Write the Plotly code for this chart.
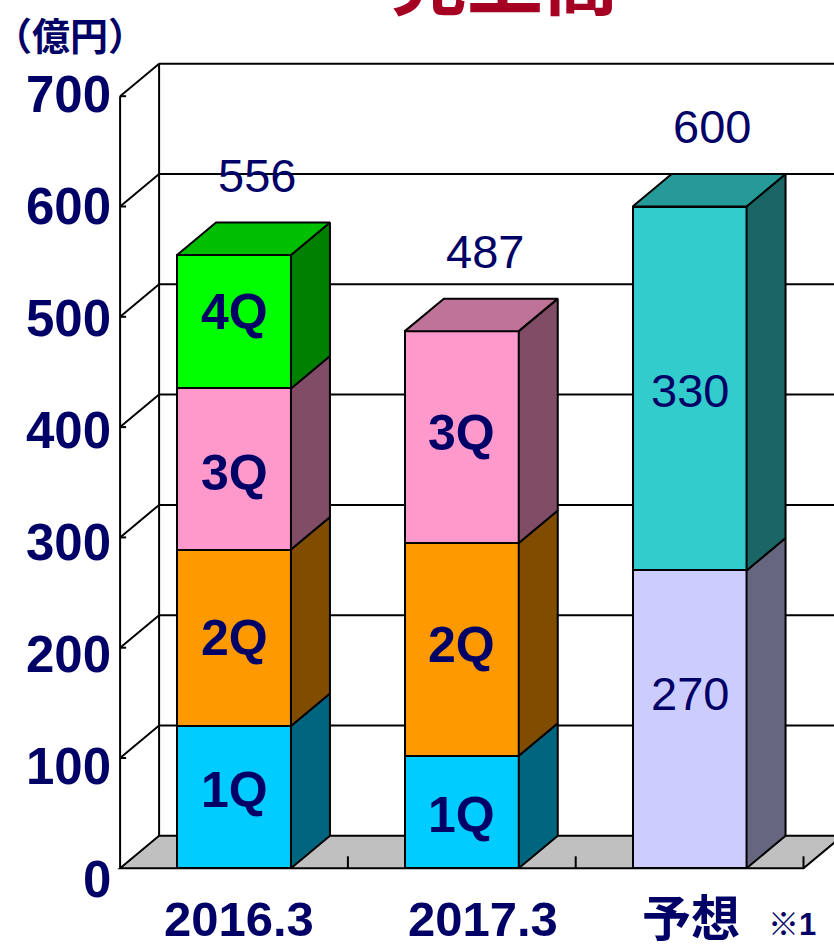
import plotly.graph_objects as go

# ---------------- data ----------------
categories = ["2016.3", "2017.3", "予想"]
note_text = "※1"
q1 = [129, 102, None]
q2 = [160, 193, None]
q3 = [146, 192, None]
q4 = [121, None, None]
fc_lower = [None, None, 270]
fc_upper = [None, None, 330]
y_ticks = [0, 100, 200, 300, 400, 500, 600, 700]
unit_text = "（億円）"
title_text = "売上高"

# series: (values, segment label ("value" -> show number), front colour, bold?)
series = [
    (q1, "1Q", "#00CCFF", True),
    (q2, "2Q", "#FF9900", True),
    (q3, "3Q", "#FF99CC", True),
    (q4, "4Q", "#00FF00", True),
    (fc_lower, "value", "#CCCCFF", False),
    (fc_upper, "value", "#33CCCC", False),
]

# ---------------- geometry / style ----------------
W, H = 834, 948
PX0, KX = 234.0, 227.8      # pixel of x=0, pixels per category
PY0, KY = 868.3, 1.103      # pixel of value 0, pixels per value unit
DX = 39.0 / KX              # depth offset (x)
DY = 32.5 / KY              # depth offset (value)
BW = 0.5                    # bar width
NAVY = "#000066"
LAT = "Liberation Sans, Arial, Noto Sans CJK JP, sans-serif"
CJK = "Noto Sans CJK JP, Liberation Sans, sans-serif"
x_lo = -0.5
x_hi = len(categories) - 0.5
ymax = y_ticks[-1]
# small pixel nudges of the in-bar labels, keyed (category, series index)
seg_nudge = {(0, 0): 7, (0, 2): -4, (0, 3): 10, (1, 0): -3, (1, 1): 4, (1, 2): 4,
             (2, 4): 26, (2, 5): -2}


def shade(hexcol, f):
    h = hexcol.lstrip("#")
    r, g, b = (int(h[i:i + 2], 16) for i in (0, 2, 4))
    return "#%02X%02X%02X" % (round(r * f), round(g * f), round(b * f))


fig = go.Figure()
shapes = []
line = dict(color="black", width=2)

# back wall gridlines
for v in y_ticks[1:]:
    shapes.append(dict(type="line", layer="below", x0=x_lo + DX, x1=x_hi + DX,
                       y0=v + DY, y1=v + DY, line=line))
# back wall left edge
shapes.append(dict(type="line", layer="below", x0=x_lo + DX, x1=x_lo + DX,
                   y0=DY, y1=ymax + DY, line=line))
# side wall diagonals
for v in y_ticks[1:]:
    shapes.append(dict(type="line", layer="below", x0=x_lo, x1=x_lo + DX,
                       y0=v, y1=v + DY, line=line))
# front axis line and ticks
shapes.append(dict(type="line", layer="below", x0=x_lo, x1=x_lo, y0=0, y1=ymax, line=line))
for v in y_ticks[1:]:
    shapes.append(dict(type="line", layer="below", x0=x_lo, x1=x_lo + 6 / KX,
                       y0=v, y1=v, line=line))
# floor
floor_path = "M %f,%f L %f,%f L %f,%f L %f,%f Z" % (
    x_lo, 0, x_hi, 0, x_hi + DX, DY, x_lo + DX, DY)
shapes.append(dict(type="path", layer="below", path=floor_path,
                   fillcolor="#C0C0C0", line=line))
# floor ticks at category boundaries
for k in range(1, len(categories) + 1):
    xb = x_lo + k
    shapes.append(dict(type="line", layer="below", x0=xb, x1=xb, y0=0, y1=12 / KY, line=line))

# front faces: stacked bars
for vals, lab, col, bold in series:
    fig.add_trace(go.Bar(
        x=list(range(len(categories))), y=vals, width=BW,
        marker=dict(color=col, line=dict(color="black", width=2)),
        hoverinfo="skip", showlegend=False,
    ))

# side and top faces, segment labels
annotations = []
for i in range(len(categories)):
    base = 0
    top_col = None
    for s, (vals, lab, col, bold) in enumerate(series):
        v = vals[i]
        if v is None:
            continue
        t = base + v
        xr = i + BW / 2
        fig.add_trace(go.Scatter(
            x=[xr, xr + DX, xr + DX, xr, xr],
            y=[base, base + DY, t + DY, t, base],
            mode="lines", fill="toself", fillcolor=shade(col, 0.5),
            line=dict(color="black", width=2),
            hoverinfo="skip", showlegend=False))
        txt = str(v) if lab == "value" else lab
        annotations.append(dict(
            x=i, y=(base + t) / 2, yshift=seg_nudge.get((i, s), 0), text=txt,
            showarrow=False, xanchor="center", yanchor="middle",
            font=dict(family=LAT, size=50 if bold else 47, color=NAVY,
                      weight="bold" if bold else "normal")))
        base = t
        top_col = col
    xl = i - BW / 2
    xr = i + BW / 2
    fig.add_trace(go.Scatter(
        x=[xl, xl + DX, xr + DX, xr, xl],
        y=[base, base + DY, base + DY, base, base],
        mode="lines", fill="toself", fillcolor=shade(top_col, 0.75),
        line=dict(color="black", width=2),
        hoverinfo="skip", showlegend=False))
    # total label
    annotations.append(dict(x=i + 0.1, y=base, yshift=80, text=str(base),
                            showarrow=False, xanchor="center", yanchor="middle",
                            font=dict(family=LAT, size=47, color=NAVY)))

# y tick labels
for v in y_ticks:
    annotations.append(dict(x=x_lo, y=v, xshift=-7, yshift=-(10.7 - 0.018 * v),
                            text=str(v), showarrow=False, xanchor="right",
                            yanchor="middle",
                            font=dict(family=LAT, size=51, color=NAVY, weight="bold")))

# category labels
cat_shift = [5, 21, 1]
for i, c in enumerate(categories):
    annotations.append(dict(x=i, y=0, xshift=cat_shift[i], yshift=-51, text=c,
                            showarrow=False, xanchor="center", yanchor="middle",
                            font=dict(family=LAT, size=49, color=NAVY, weight="bold")))
annotations.append(dict(x=len(categories) - 1, y=0, xshift=102, yshift=-56, text=note_text,
                        showarrow=False, xanchor="center", yanchor="middle",
                        font=dict(family=LAT, size=31, color=NAVY, weight="bold")))

# unit and title
annotations.append(dict(xref="paper", yref="paper", x=70 / W, y=1, yshift=-4, text=unit_text,
                        showarrow=False, xanchor="center", yanchor="top",
                        font=dict(family=CJK, size=38, color=NAVY, weight="bold")))
annotations.append(dict(xref="paper", yref="paper", x=505 / W, y=1 + 24 / H, text=title_text,
                        showarrow=False, xanchor="center", yanchor="middle",
                        font=dict(family=CJK, size=76, color="#A50021", weight="bold")))

fig.update_layout(
    width=W, height=H,
    margin=dict(l=0, r=0, t=0, b=0),
    paper_bgcolor="white", plot_bgcolor="white",
    barmode="stack",
    xaxis=dict(range=[-PX0 / KX, (W - PX0) / KX], visible=False, fixedrange=True),
    yaxis=dict(range=[(PY0 - H) / KY, PY0 / KY], visible=False, fixedrange=True),
    shapes=shapes,
    annotations=annotations,
    showlegend=False,
)

fig.write_html("out.html", config={"displayModeBar": False})
